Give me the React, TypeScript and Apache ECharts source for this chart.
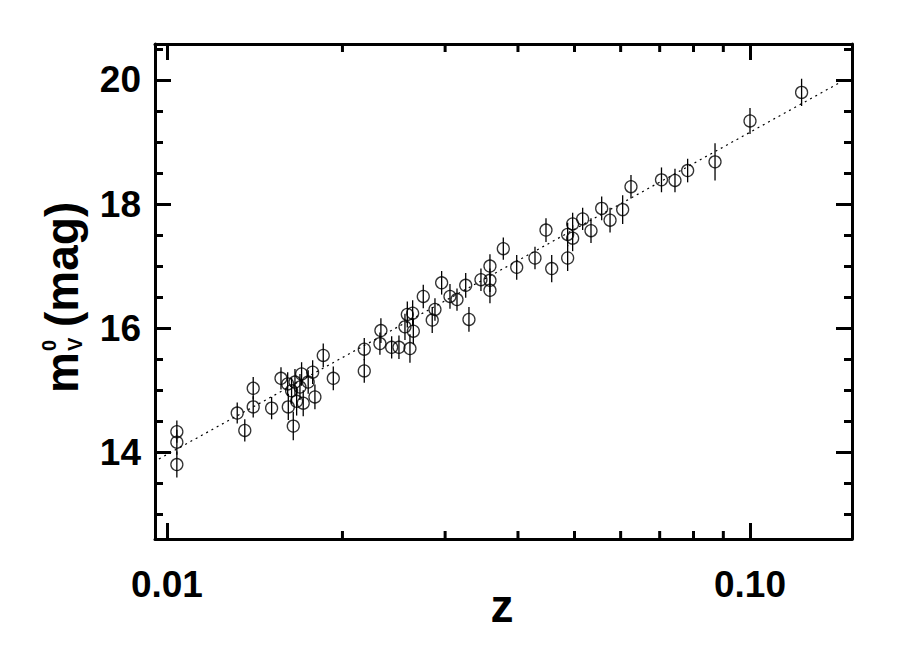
import React, { useEffect, useRef } from 'react';
import * as echarts from 'echarts';

// Redshift z of each supernova
const redshift = [
  0.0104, 0.0104, 0.0104, 0.0132, 0.0136, 0.01406, 0.01406, 0.01512, 0.01569, 0.01611,
  0.01615, 0.01647, 0.01636, 0.01658, 0.01669, 0.01702, 0.01691, 0.01713, 0.01747, 0.01778,
  0.01794, 0.01854, 0.01929, 0.0218, 0.0218, 0.02328, 0.02319, 0.02429, 0.025, 0.02611,
  0.0256, 0.02584, 0.02639, 0.02646, 0.02752, 0.02851, 0.02882, 0.02959, 0.03058, 0.03144,
  0.03254, 0.03296, 0.03456, 0.03581, 0.03581, 0.03581, 0.03775, 0.0398, 0.04278, 0.0457,
  0.04468, 0.04867, 0.04867, 0.04964, 0.04964, 0.05164, 0.05337, 0.05567, 0.05754, 0.06048,
  0.0625, 0.0705, 0.07436, 0.07817, 0.0871, 0.1, 0.1226,
];
// Corrected peak V magnitude
const magnitude = [
  14.33, 14.16, 13.8, 14.63, 14.35, 15.03, 14.73, 14.71, 15.19, 15.1,
  14.73, 14.42, 14.99, 15.13, 14.82, 15.26, 15.05, 14.79, 15.13, 15.29,
  14.89, 15.56, 15.19, 15.66, 15.31, 15.96, 15.75, 15.69, 15.69, 15.67,
  16.02, 16.22, 16.24, 15.95, 16.51, 16.13, 16.3, 16.73, 16.51, 16.46,
  16.69, 16.14, 16.78, 17.0, 16.77, 16.61, 17.28, 16.98, 17.13, 16.96,
  17.58, 17.51, 17.13, 17.68, 17.45, 17.76, 17.57, 17.93, 17.74, 17.91,
  18.28, 18.39, 18.38, 18.54, 18.68, 19.34, 19.8,
];
// One-sigma errors
const magError = [
  0.18, 0.2, 0.21, 0.17, 0.18, 0.18, 0.17, 0.18, 0.18, 0.19,
  0.21, 0.23, 0.21, 0.21, 0.23, 0.19, 0.21, 0.21, 0.19, 0.19,
  0.2, 0.19, 0.19, 0.18, 0.19, 0.2, 0.18, 0.18, 0.19, 0.23,
  0.21, 0.21, 0.21, 0.21, 0.19, 0.21, 0.18, 0.19, 0.2, 0.18,
  0.2, 0.2, 0.18, 0.19, 0.19, 0.21, 0.18, 0.2, 0.18, 0.22,
  0.19, 0.19, 0.21, 0.18, 0.21, 0.18, 0.2, 0.19, 0.2, 0.23,
  0.19, 0.2, 0.19, 0.19, 0.3, 0.21, 0.22,
];
// Fitted Hubble line (end points)
const fitRedshift = [0.00969, 0.1427];
const fitMagnitude = [13.89, 19.96];

// Axis ticks
const xMajorTicks = [0.01, 0.1];
const xTickLabels = ['0.01', '0.10'];
const xMinorTicks = [0.02, 0.03, 0.04, 0.05, 0.06, 0.07, 0.08, 0.09];
const yMajorTicks = [14, 16, 18, 20];
const yMinorTicks = [13, 13.5, 14.5, 15, 15.5, 16.5, 17, 17.5, 18.5, 19, 19.5, 20.5];

const X_MIN = 0.00954;
const X_MAX = 0.1496;
const Y_MIN = 12.6;
const Y_MAX = 20.58;

const FONT = '"Liberation Sans", Arial, Helvetica, sans-serif';
const AXIS_W = 3;

function buildOption() {
  const tickLine = { lineStyle: { color: '#000', width: AXIS_W } };
  const yAxisBase = (position: 'left' | 'right', values: number[], len: number, showLine: boolean, showLabel: boolean) => ({
    type: 'value',
    position,
    min: Y_MIN,
    max: Y_MAX,
    splitLine: { show: false },
    axisLine: { show: showLine, lineStyle: { color: '#000', width: AXIS_W } },
    axisTick: { show: true, inside: true, length: len, customValues: values, ...tickLine },
    axisLabel: {
      show: showLabel,
      customValues: yMajorTicks,
      color: '#000',
      fontFamily: FONT,
      fontWeight: 'bold',
      fontSize: 37,
      margin: 14,
    },
  });

  const xAxisBase = (position: 'bottom' | 'top', showLabel: boolean) => ({
    type: 'log',
    logBase: 10,
    position,
    min: X_MIN,
    max: X_MAX,
    splitLine: { show: false },
    axisLine: { show: true, lineStyle: { color: '#000', width: AXIS_W } },
    axisTick: { show: true, inside: true, length: 16, ...tickLine },
    axisLabel: {
      show: showLabel,
      color: '#000',
      fontFamily: FONT,
      fontWeight: 'bold',
      fontSize: 37,
      margin: 27,
      showMinLabel: false,
      showMaxLabel: false,
      formatter: (v: number) => {
        for (let i = 0; i < xMajorTicks.length; i++) {
          if (Math.abs(v - xMajorTicks[i]) < 1e-9) return xTickLabels[i];
        }
        return '';
      },
    },
  });

  const points = redshift.map((z, i) => [z, magnitude[i]]);
  const bars = redshift.map((z, i) => [z, magnitude[i], magError[i]]);
  const fit = fitRedshift.map((z, i) => [z, fitMagnitude[i]]);
  const minor = xMinorTicks.map((z) => [z, Y_MIN]);

  const F = 46;
  const SF = 20;
  const mid = 0.347;
  const titleFont = (size: number) => ({ fontFamily: FONT, fontWeight: 'bold', fontSize: size, fill: '#000' });

  return {
    animation: false,
    backgroundColor: '#fff',
    grid: { left: 155, right: 64, top: 44, bottom: 114 },
    xAxis: [xAxisBase('bottom', true), xAxisBase('top', false)],
    yAxis: [
      yAxisBase('left', yMajorTicks, 16, true, true),
      yAxisBase('right', yMajorTicks, 16, true, false),
      yAxisBase('left', yMinorTicks, 8, false, false),
      yAxisBase('right', yMinorTicks, 8, false, false),
    ],
    graphic: [
      {
        type: 'text',
        x: 502,
        y: 622 - mid * F,
        style: { text: 'z', ...titleFont(F), align: 'center', verticalAlign: 'middle' },
      },
      {
        type: 'group',
        x: 78,
        y: 393,
        rotation: Math.PI / 2,
        children: [
          { type: 'text', x: 0, y: -mid * F, style: { text: 'm', ...titleFont(F), align: 'left', verticalAlign: 'middle' } },
          { type: 'text', x: 42, y: 4 - mid * SF, style: { text: 'V', ...titleFont(SF), align: 'left', verticalAlign: 'middle' } },
          { type: 'text', x: 42, y: -22 - mid * SF, style: { text: '0', ...titleFont(SF), align: 'left', verticalAlign: 'middle' } },
          { type: 'text', x: 66, y: -mid * F, style: { text: '(mag)', ...titleFont(F), align: 'left', verticalAlign: 'middle' } },
        ],
      },
    ],
    series: [
      {
        type: 'line',
        data: fit,
        xAxisIndex: 0,
        yAxisIndex: 0,
        symbol: 'none',
        lineStyle: { color: '#000', width: 1.2, type: [2, 4] },
        silent: true,
      },
      {
        type: 'custom',
        xAxisIndex: 0,
        yAxisIndex: 0,
        data: bars,
        silent: true,
        renderItem: (params: any, api: any) => {
          const z = api.value(0);
          const m = api.value(1);
          const e = api.value(2);
          const lo = api.coord([z, m - e]);
          const hi = api.coord([z, m + e]);
          return {
            type: 'line',
            shape: { x1: lo[0], y1: lo[1], x2: hi[0], y2: hi[1] },
            style: { stroke: '#000', lineWidth: 1.3 },
          };
        },
      },
      {
        type: 'scatter',
        xAxisIndex: 0,
        yAxisIndex: 0,
        data: points,
        symbol: 'circle',
        symbolSize: 12,
        itemStyle: { color: 'rgba(0,0,0,0)', borderColor: '#000', borderWidth: 1.3 },
        silent: true,
      },
      {
        type: 'custom',
        xAxisIndex: 0,
        yAxisIndex: 0,
        data: minor,
        silent: true,
        clip: false,
        renderItem: (params: any, api: any) => {
          const z = api.value(0);
          const b = api.coord([z, Y_MIN]);
          const t = api.coord([z, Y_MAX]);
          return {
            type: 'group',
            children: [
              { type: 'line', shape: { x1: b[0], y1: b[1], x2: b[0], y2: b[1] - 8 }, style: { stroke: '#000', lineWidth: AXIS_W } },
              { type: 'line', shape: { x1: t[0], y1: t[1], x2: t[0], y2: t[1] + 8 }, style: { stroke: '#000', lineWidth: AXIS_W } },
            ],
          };
        },
      },
    ],
  };
}

export default function App() {
  const ref = useRef<HTMLDivElement>(null);
  useEffect(() => {
    if (!ref.current) return;
    const chart = echarts.init(ref.current, null, { renderer: 'svg' });
    chart.setOption(buildOption() as any);
    return () => chart.dispose();
  }, []);
  return <div ref={ref} style={{ position: 'absolute', left: 0, top: 0, width: 916, height: 653 }} />;
}
